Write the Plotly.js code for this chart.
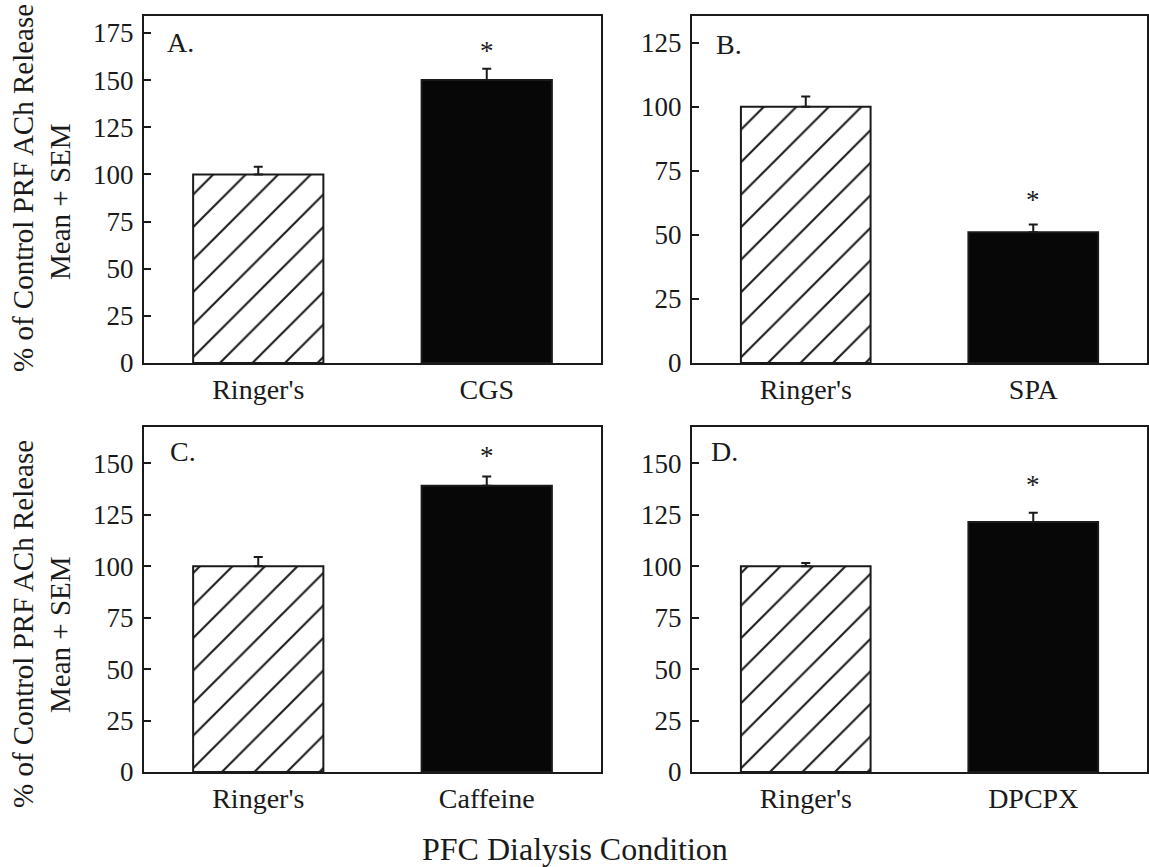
<!DOCTYPE html>
<html>
<head>
<meta charset="utf-8">
<script src="https://cdn.plot.ly/plotly-3.0.1.min.js"></script>
<style>html,body{margin:0;padding:0;background:#fff;}#chart{width:1149px;height:867px;}</style>
</head>
<body>
<div id="chart"></div>
<script>
// ---- data ----
const panelLabels = ["A.", "B.", "C.", "D."];
const catsA = ["Ringer's", "CGS"];
const catsB = ["Ringer's", "SPA"];
const catsC = ["Ringer's", "Caffeine"];
const catsD = ["Ringer's", "DPCPX"];
const meanA = [100, 150];
const meanB = [100, 51];
const meanC = [100, 139];
const meanD = [100, 121.5];
const semA = [4, 6];
const semB = [4, 3];
const semC = [4.5, 4.5];
const semD = [1.5, 4.5];
const sigA = [false, true];
const sigB = [false, true];
const sigC = [false, true];
const sigD = [false, true];
const yTitleLine1 = "% of Control PRF ACh Release";
const yTitleLine2 = "Mean + SEM";
const xTitle = "PFC Dialysis Condition";

// ---- layout helpers ----
const W = 1149, H = 867;
const FONT = "'Liberation Serif', 'Times New Roman', Times, serif";
const INK = "#1a1a1a";
const px = v => v / W;
const py = v => 1 - v / H;

const panels = [
  {cats: catsA, mean: meanA, sem: semA, sig: sigA, x0: 144, x1: 601, y0: 16, y1: 363, yr: [0, 184], ymax: 175, starShift: 1, lab: {x: 0.046, y: 0.925}},
  {cats: catsB, mean: meanB, sem: semB, sig: sigB, x0: 692, x1: 1147, y0: 16, y1: 363, yr: [0, 135.4], ymax: 125, starShift: 8, lab: {x: 0.048, y: 0.918}},
  {cats: catsC, mean: meanC, sem: semC, sig: sigC, x0: 144, x1: 601, y0: 427, y1: 772, yr: [0, 167.6], ymax: 150, starShift: 4, lab: {x: 0.053, y: 0.928}},
  {cats: catsD, mean: meanD, sem: semD, sig: sigD, x0: 692, x1: 1147, y0: 427, y1: 772, yr: [0, 167.6], ymax: 150, starShift: 11, lab: {x: 0.038, y: 0.928}}
];

const traces = [];
const layout = {
  width: W, height: H,
  margin: {l: 0, r: 0, t: 0, b: 0},
  paper_bgcolor: "#fff", plot_bgcolor: "#fff",
  showlegend: false,
  font: {family: FONT, size: 27, color: INK},
  annotations: [],
  barmode: "overlay"
};

panels.forEach((p, i) => {
  const n = i === 0 ? "" : String(i + 1);
  const xa = "x" + n, ya = "y" + n;
  p.cats.forEach((c, k) => {
    const hatched = k === 0;
    const tr = {
      type: "bar",
      x: [c], y: [p.mean[k]],
      xaxis: xa, yaxis: ya,
      width: 0.57,
      marker: {
        color: hatched ? "#ffffff" : "#070707",
        line: {color: INK, width: 2}
      },
      error_y: {
        type: "data", symmetric: false,
        array: [p.sem[k]], arrayminus: [0],
        color: INK, thickness: 2, width: 4.5
      },
      hoverinfo: "skip"
    };
    if (hatched) {
      tr.marker.pattern = {shape: "/", fgcolor: INK, bgcolor: "#ffffff", size: 23, solidity: 0.09};
    }
    traces.push(tr);
  });
  const tickvals = [];
  for (let v = 0; v <= p.ymax; v += 25) tickvals.push(v);
  layout["xaxis" + n] = {
    domain: [px(p.x0), px(p.x1)],
    anchor: ya,
    type: "category",
    categoryorder: "array", categoryarray: p.cats,
    range: [-0.5, 1.5],
    showline: true, mirror: true, linecolor: INK, linewidth: 2,
    ticks: "", showgrid: false, zeroline: false,
    tickfont: {family: FONT, size: 28, color: INK},
    ticklabelstandoff: 0,
    fixedrange: true
  };
  layout["yaxis" + n] = {
    domain: [py(p.y1), py(p.y0)],
    anchor: xa,
    range: p.yr,
    tickmode: "array", tickvals: tickvals,
    showline: true, mirror: true, linecolor: INK, linewidth: 2,
    ticks: "inside", ticklen: 7, tickwidth: 2, tickcolor: INK,
    showgrid: false, zeroline: false,
    tickfont: {family: FONT, size: 27, color: INK},
    ticklabelstandoff: 3,
    fixedrange: true
  };
  layout.annotations.push({
    xref: xa + " domain", yref: ya + " domain",
    x: p.lab.x, y: p.lab.y, xanchor: "left", yanchor: "middle",
    text: panelLabels[i], showarrow: false,
    font: {family: FONT, size: 28, color: INK}
  });
  p.cats.forEach((c, k) => {
    if (p.sig[k]) {
      layout.annotations.push({
        xref: xa, yref: ya,
        x: c, y: p.mean[k] + p.sem[k],
        xanchor: "center", yanchor: "bottom", yshift: p.starShift,
        text: "*", showarrow: false,
        font: {family: FONT, size: 27, color: INK}
      });
    }
  });
});

[[188, 202], [624, 635]].forEach(c => {
  layout.annotations.push({
    xref: "paper", yref: "paper", x: px(23), y: py(c[0]),
    xanchor: "center", yanchor: "middle", textangle: -90,
    text: yTitleLine1, showarrow: false,
    font: {family: FONT, size: 29, color: INK}
  });
  layout.annotations.push({
    xref: "paper", yref: "paper", x: px(60), y: py(c[1]),
    xanchor: "center", yanchor: "middle", textangle: -90,
    text: yTitleLine2, showarrow: false,
    font: {family: FONT, size: 29, color: INK}
  });
});

layout.annotations.push({
  xref: "paper", yref: "paper", x: px(575), y: py(849),
  xanchor: "center", yanchor: "middle",
  text: xTitle, showarrow: false,
  font: {family: FONT, size: 32, color: INK}
});

Plotly.newPlot("chart", traces, layout, {displayModeBar: false});
</script>
</body>
</html>
